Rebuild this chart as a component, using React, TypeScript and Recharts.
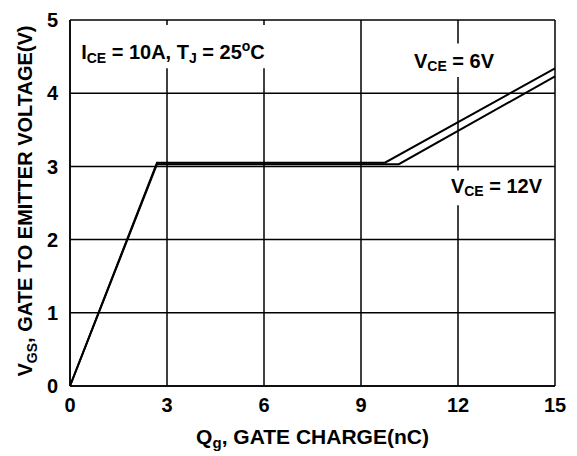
import React from 'react';
import { LineChart, Line, XAxis, YAxis, CartesianGrid, ReferenceArea, Label } from 'recharts';

const xTicks = [0, 3, 6, 9, 12, 15];
const yTicks = [0, 1, 2, 3, 4, 5];

// gate charge (nC) / gate-emitter voltage (V) for each curve
const vce6Charge = [0, 2.69, 9.74, 15];
const vce6Voltage = [0, 3.05, 3.05, 4.34];
const vce12Charge = [0, 2.69, 10.17, 15];
const vce12Voltage = [0, 3.03, 3.03, 4.23];

const vce6 = vce6Charge.map((q, i) => ({ q, v: vce6Voltage[i] }));
const vce12 = vce12Charge.map((q, i) => ({ q, v: vce12Voltage[i] }));

const FONT = '"Liberation Sans", Arial, sans-serif';
const SUB = 14;

const AnnoLabel = ({ viewBox, base, children }: any) => {
  const { x, y, width } = viewBox;
  return (
    <text
      x={x + width / 2}
      y={y + base}
      textAnchor="middle"
      fontFamily={FONT}
      fontWeight="bold"
      fontSize={20}
      fill="#000"
    >
      {children}
    </text>
  );
};

const XTitle = ({ viewBox }: any) => {
  const { x, width } = viewBox;
  return (
    <text x={x + width / 2} y={444} textAnchor="middle" fontFamily={FONT} fontWeight="bold" fontSize={21} fill="#000">
      <tspan>Q</tspan>
      <tspan fontSize={15} dy={4}>g</tspan>
      <tspan dy={-4}>, GATE CHARGE(nC)</tspan>
    </text>
  );
};

const YTitle = () => (
  <text
    x={0}
    y={0}
    transform="translate(32, 201) rotate(-90)"
    textAnchor="middle"
    fontFamily={FONT}
    fontWeight="bold"
    fontSize={20}
    fill="#000"
  >
    <tspan>V</tspan>
    <tspan fontSize={SUB} dy={5}>GS</tspan>
    <tspan dy={-5}>,  GATE TO EMITTER VOLTAGE(V)</tspan>
  </text>
);

const App: React.FC = () => {
  return (
    <div style={{ position: 'absolute', left: 0, top: 0, background: '#fff' }}>
      <LineChart width={577} height={456} margin={{ top: 20, right: 22, left: 0, bottom: 0 }}>
        <CartesianGrid stroke="#000" strokeWidth={1.5} />
        <XAxis
          type="number"
          dataKey="q"
          domain={[0, 15]}
          ticks={xTicks}
          height={70}
          axisLine={{ stroke: '#000', strokeWidth: 1.5 }}
          tickLine={false}
          tickSize={0}
          tickMargin={12}
          tick={{ fill: '#000', fontSize: 20, fontWeight: 'bold', fontFamily: FONT }}
        >
          <Label content={<XTitle />} />
        </XAxis>
        <YAxis
          type="number"
          domain={[0, 5]}
          ticks={yTicks}
          width={70}
          axisLine={{ stroke: '#000', strokeWidth: 1.5 }}
          tickLine={false}
          tickSize={0}
          tickMargin={12}
          tick={{ fill: '#000', fontSize: 20, fontWeight: 'bold', fontFamily: FONT }}
        >
          <Label content={<YTitle />} />
        </YAxis>

        <ReferenceArea
          x1={0.25}
          x2={6.12}
          y1={4.34}
          y2={4.93}
          fill="#fff"
          fillOpacity={1}
          stroke="none"
          label={
            <AnnoLabel base={34}>
              <tspan>I</tspan>
              <tspan fontSize={SUB} dy={4}>CE</tspan>
              <tspan dy={-4}> = 10A, T</tspan>
              <tspan fontSize={SUB} dy={4}>J</tspan>
              <tspan dy={-4}> = 25</tspan>
              <tspan fontSize={SUB} dy={-8}>o</tspan>
              <tspan dy={8}>C</tspan>
            </AnnoLabel>
          }
        />
        <ReferenceArea
          x1={10.45}
          x2={13.3}
          y1={4.22}
          y2={4.68}
          fill="#fff"
          fillOpacity={1}
          stroke="none"
          label={
            <AnnoLabel base={25}>
              <tspan>V</tspan>
              <tspan fontSize={SUB} dy={3}>CE</tspan>
              <tspan dy={-3}> = 6V</tspan>
            </AnnoLabel>
          }
        />
        <ReferenceArea
          x1={11.6}
          x2={14.78}
          y1={2.47}
          y2={2.945}
          fill="#fff"
          fillOpacity={1}
          stroke="none"
          label={
            <AnnoLabel base={23}>
              <tspan>V</tspan>
              <tspan fontSize={SUB} dy={3}>CE</tspan>
              <tspan dy={-3}> = 12V</tspan>
            </AnnoLabel>
          }
        />

        <Line data={vce6} dataKey="v" type="linear" stroke="#000" strokeWidth={2} dot={false} isAnimationActive={false} />
        <Line data={vce12} dataKey="v" type="linear" stroke="#000" strokeWidth={2} dot={false} isAnimationActive={false} />
      </LineChart>
    </div>
  );
};

export default App;
